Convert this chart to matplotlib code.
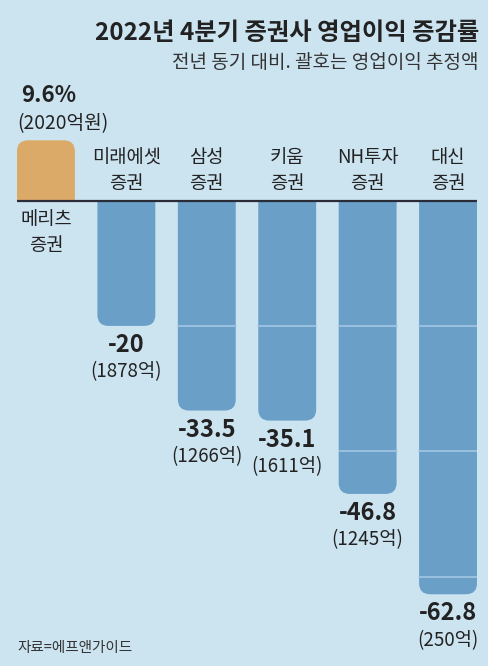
import matplotlib.pyplot as plt
from matplotlib.patches import FancyBboxPatch, Rectangle

plt.rcParams['font.family'] = ['Noto Sans CJK KR', 'DejaVu Sans']

companies = ["메리츠\n증권", "미래에셋\n증권", "삼성\n증권", "키움\n증권", "NH투자\n증권", "대신\n증권"]
change_pct = [9.6, -20, -33.5, -35.1, -46.8, -62.8]
profit_labels = ["(2020억원)", "(1878억)", "(1266억)", "(1611억)", "(1245억)", "(250억)"]
value_labels = ["9.6%", "-20", "-33.5", "-35.1", "-46.8", "-62.8"]
grid_levels = [-20, -40, -60]

BG = "#cce3f0"
BLUE = "#6a9fc8"
ORANGE = "#dcaa68"
GRID = "#a8cae5"
TEXT = "#222222"

W, H = 488, 666
PX_PER_UNIT = 6.27   # vertical pixels per percentage point
ZERO_PX = 200.5      # zero line from top
BAR_W = 0.72

fig = plt.figure(figsize=(W / 100, H / 100), dpi=100)
fig.patch.set_facecolor(BG)
ax = fig.add_axes([17 / W, 0, 460 / W, 1])
ax.set_facecolor(BG)
ax.set_xlim(-0.36, len(companies) - 1 + 0.36)
ax.set_ylim(-(H - ZERO_PX) / PX_PER_UNIT, ZERO_PX / PX_PER_UNIT)
ax.axis("off")

# rounding in x units, scaled for the y axis
aspect = 80.4 / PX_PER_UNIT
rnd = 11 / 80.4
ext = 5  # how far the rounded box runs past the baseline before clipping

for i, v in enumerate(change_pct):
    color = ORANGE if v > 0 else BLUE
    if v > 0:
        box = FancyBboxPatch((i - BAR_W / 2, -ext), BAR_W, v + ext,
                             boxstyle=f"round,pad=0,rounding_size={rnd}",
                             mutation_aspect=aspect, facecolor=color,
                             edgecolor="none", zorder=2)
        clip = Rectangle((i - 1, 0), 2, v + 1, transform=ax.transData)
    else:
        box = FancyBboxPatch((i - BAR_W / 2, v), BAR_W, -v + ext,
                             boxstyle=f"round,pad=0,rounding_size={rnd}",
                             mutation_aspect=aspect, facecolor=color,
                             edgecolor="none", zorder=2)
        clip = Rectangle((i - 1, v - 1), 2, -v + 1, transform=ax.transData)
    ax.add_patch(box)
    box.set_clip_path(clip)

# light grid lines visible only through the bars
for g in grid_levels:
    for i, v in enumerate(change_pct):
        if v < g:
            ax.plot([i - BAR_W / 2, i + BAR_W / 2], [g, g], color=GRID, lw=1.1, zorder=3)

ax.axhline(0, color="#2a2d38", lw=1.6, zorder=4)

u = 1 / PX_PER_UNIT  # one pixel in data units
for i, (v, name) in enumerate(zip(change_pct, companies)):
    if v > 0:
        ax.text(i, -32 * u, name, ha="center", va="center", fontsize=13.5,
                color=TEXT, linespacing=1.25)
        ax.text(i - BAR_W / 2 + 0.05, v + 45 * u, value_labels[i], ha="left",
                va="center", fontsize=16, fontweight="bold", color=TEXT)
        ax.text(i - BAR_W / 2, v + 17 * u, profit_labels[i], ha="left",
                va="center", fontsize=13.8, color=TEXT)
    else:
        ax.text(i, 30 * u, name, ha="center", va="center", fontsize=13.5,
                color=TEXT, linespacing=1.25)
        ax.text(i, v - 19 * u, value_labels[i], ha="center", va="center",
                fontsize=17, fontweight="bold", color=TEXT)
        ax.text(i, v - 46 * u, profit_labels[i], ha="center", va="center",
                fontsize=13.5, color=TEXT)

fig.text(479 / W, 1 - 33 / H, "2022년 4분기 증권사 영업이익 증감률", ha="right",
         va="center", fontsize=17.5, fontweight="bold", color=TEXT)
fig.text(479 / W, 1 - 63 / H, "전년 동기 대비. 괄호는 영업이익 추정액", ha="right",
         va="center", fontsize=13.7, color="#333333")
fig.text(17 / W, 1 - 648 / H, "자료=에프앤가이드", ha="left", va="center",
         fontsize=10.5, color="#333333")

fig.savefig("out.png", dpi=100, facecolor=BG)
